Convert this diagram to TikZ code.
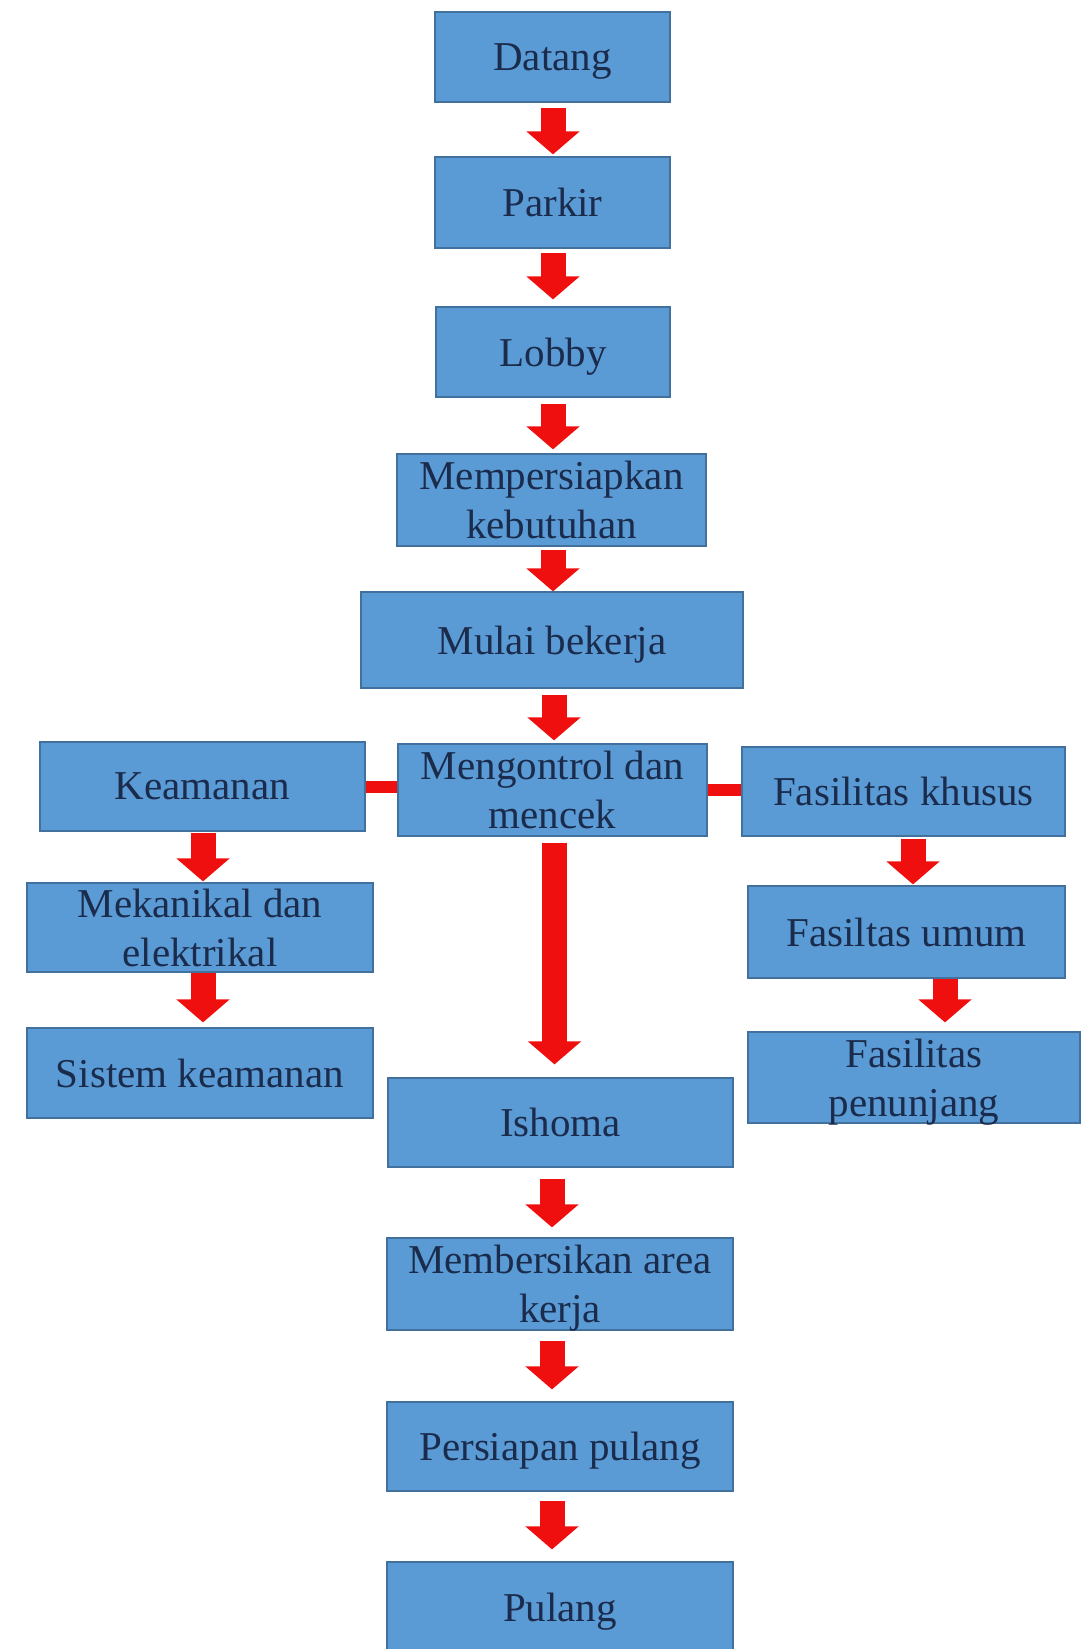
\documentclass[tikz,border=0pt]{standalone}
\usepackage{fontspec}
\setmainfont{Liberation Serif}
\usepackage{tikz}
\usetikzlibrary{arrows.meta}
\definecolor{boxblue}{HTML}{5B9BD5}
\definecolor{boxedge}{HTML}{41719C}
\definecolor{boxtext}{HTML}{1A2B4C}
\definecolor{flowred}{HTML}{F00F0F}

\begin{document}
\begin{tikzpicture}[x=1pt,y=-1pt,
  tahap/.style={draw=boxedge, line width=1.2pt, fill=boxblue, text=boxtext, inner sep=0pt,
    align=center, font=\fontsize{41}{49}\selectfont, text depth=0pt},
  panah/.style={draw=flowred, line width=25pt, -{Triangle[width=52pt,length=23pt]}},
  sambung/.style={draw=flowred, line width=12pt}]
  \useasboundingbox (0,0) rectangle (1080,1649);

  % jalur utama
  \node [tahap, minimum width=235pt, minimum height=90pt] (datang) at (552.5,57) {Datang};
  \node [tahap, minimum width=235pt, minimum height=91pt] (parkir) at (552.5,202.5) {Parkir};
  \node [tahap, minimum width=234pt, minimum height=90pt] (lobby) at (553,352) {Lobby};
  \node [tahap, minimum width=309pt, minimum height=92pt] (siap) at (551.5,500) {Mempersiapkan\\kebutuhan};
  \node [tahap, minimum width=382pt, minimum height=96pt] (mulai) at (552,640) {Mulai bekerja};
  \node [tahap, minimum width=309pt, minimum height=92pt] (kontrol) at (552.5,790) {Mengontrol dan\\mencek};

  % cabang kiri
  \node [tahap, minimum width=325pt, minimum height=89pt] (aman) at (202.5,786.5) {Keamanan};
  \node [tahap, minimum width=346pt, minimum height=89pt] (mekel) at (200,927.5) {Mekanikal dan\\elektrikal};
  \node [tahap, minimum width=346pt, minimum height=90pt] (sistem) at (200,1073) {Sistem keamanan};

  % cabang kanan
  \node [tahap, minimum width=323pt, minimum height=89pt] (khusus) at (903.5,791.5) {Fasilitas khusus};
  \node [tahap, minimum width=317pt, minimum height=92pt] (umum) at (906.5,932) {Fasiltas umum};
  \node [tahap, minimum width=332pt, minimum height=91pt] (tunjang) at (914,1077.5) {Fasilitas\\penunjang};

  % akhir hari
  \node [tahap, minimum width=345pt, minimum height=89pt] (ishoma) at (560.5,1122.5) {Ishoma};
  \node [tahap, minimum width=346pt, minimum height=92pt] (bersih) at (560,1284) {Membersikan area\\kerja};
  \node [tahap, minimum width=346pt, minimum height=89pt] (persiapan) at (560,1446.5) {Persiapan pulang};
  \node [tahap, minimum width=346pt, minimum height=90pt] (pulang) at (560,1607) {Pulang};

  \draw [panah, shorten <=5pt, shorten >=2pt] ([xshift=0.5pt]datang.south) -- ([xshift=0.5pt]parkir.north);
  \draw [panah, shorten <=4pt, shorten >=7pt] ([xshift=0.5pt]parkir.south) -- (lobby.north);
  \draw [panah, shorten <=6pt, shorten >=4pt] (lobby.south) -- ([xshift=1.5pt]siap.north);
  \draw [panah, shorten <=3pt] ([xshift=1.5pt]siap.south) -- ([xshift=1pt]mulai.north);
  \draw [panah, shorten <=6pt, shorten >=3pt] ([xshift=2pt]mulai.south) -- ([xshift=1.5pt]kontrol.north);
  \draw [panah, shorten <=6pt, shorten >=13pt] ([xshift=2pt]kontrol.south) -- ([xshift=-6pt]ishoma.north);

  \draw [sambung] (aman.east) -- (aman.east -| kontrol.west);
  \draw [sambung] (kontrol.east) -- (kontrol.east -| khusus.west);

  \draw [panah, shorten <=1pt, shorten >=1pt] ([xshift=0.5pt]aman.south) -- ([xshift=3pt]mekel.north);
  \draw [panah, shorten >=5pt] ([xshift=3pt]mekel.south) -- ([xshift=3pt]sistem.north);
  \draw [panah, shorten <=2pt, shorten >=1pt] ([xshift=9.5pt]khusus.south) -- ([xshift=6.5pt]umum.north);
  \draw [panah, shorten >=9pt] ([xshift=38.5pt]umum.south) -- ([xshift=31pt]tunjang.north);

  \draw [panah, shorten <=11pt, shorten >=10pt] ([xshift=-8.5pt]ishoma.south) -- ([xshift=-8pt]bersih.north);
  \draw [panah, shorten <=10pt, shorten >=12pt] ([xshift=-8pt]bersih.south) -- ([xshift=-8pt]persiapan.north);
  \draw [panah, shorten <=9pt, shorten >=12pt] ([xshift=-8pt]persiapan.south) -- ([xshift=-8pt]pulang.north);

\end{tikzpicture}
\end{document}
